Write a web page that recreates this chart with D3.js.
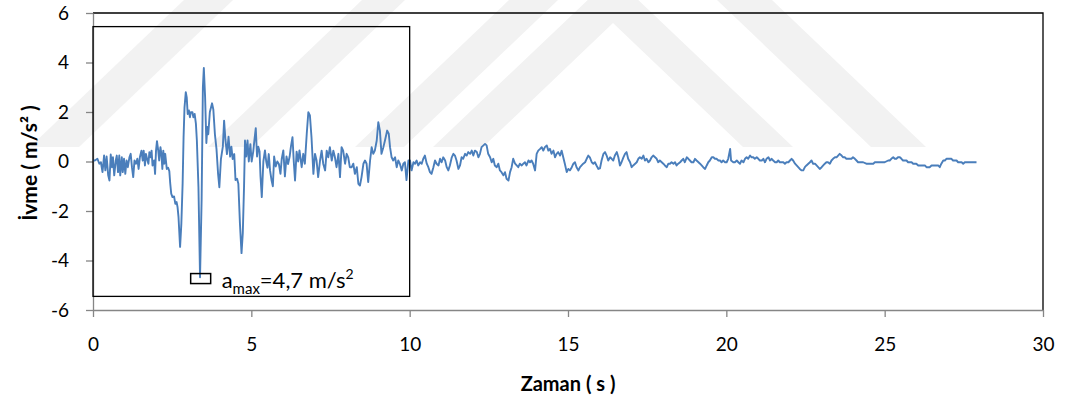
<!DOCTYPE html>
<html>
<head>
<meta charset="utf-8">
<title>Ivme - Zaman</title>
<style>
  body { margin: 0; background: #fff; }
  text { font-family: Lato, "Open Sans", sans-serif; fill: #000; }
</style>
</head>
<body>
<script src="https://d3js.org/d3.v7.min.js"></script>
<script>
// tick values
const xTicks = [0, 5, 10, 15, 20, 25, 30];
const yTicks = [-6, -4, -2, 0, 2, 4, 6];

// strong motion part, 0 - 10 s  [time (s), acceleration (m/s2)]
const kayitGuclu = [
  [0.00,0.05],[0.06,0.04],[0.14,0.11],[0.20,-0.09],[0.25,-0.03],[0.30,-0.43],[0.35,0.24],[0.39,-0.36],
  [0.43,0.20],[0.48,-0.56],[0.52,-0.77],[0.56,0.28],[0.60,-0.23],[0.63,0.17],[0.67,-0.56],[0.72,0.04],
  [0.75,0.24],[0.79,-0.43],[0.83,0.24],[0.86,-0.56],[0.91,0.17],[0.94,-0.43],[0.98,0.11],[1.02,-0.50],
  [1.06,0.04],[1.10,-0.23],[1.15,0.17],[1.19,0.31],[1.23,-0.23],[1.27,-0.63],[1.31,0.04],[1.36,-0.09],
  [1.40,0.11],[1.44,-0.30],[1.48,0.17],[1.53,0.44],[1.57,0.04],[1.60,0.44],[1.64,-0.16],[1.67,0.31],
  [1.72,0.04],[1.75,-0.09],[1.78,0.38],[1.82,0.17],[1.85,0.44],[1.88,-0.16],[1.93,0.04],[1.96,-0.50],
  [1.99,0.44],[2.02,0.82],[2.06,0.44],[2.09,0.04],[2.13,0.58],[2.16,0.31],[2.19,-0.30],[2.22,0.44],
  [2.25,-0.09],[2.28,0.31],[2.33,-0.30],[2.37,-0.25],[2.41,-0.39],[2.44,-0.90],[2.47,-1.30],[2.51,-1.44],
  [2.56,-1.41],[2.60,-1.71],[2.64,-1.64],[2.67,-1.84],[2.70,-2.24],[2.75,-3.45],[2.79,-2.51],[2.83,-0.90],
  [2.86,0.98],[2.89,2.19],[2.93,2.80],[2.96,2.59],[2.99,1.92],[3.03,2.06],[3.06,1.79],[3.09,1.99],
  [3.14,1.99],[3.17,1.79],[3.21,1.92],[3.25,1.52],[3.28,0.85],[3.33,-1.03],[3.38,-4.68],[3.43,-1.55],
  [3.47,3.00],[3.50,3.78],[3.54,2.60],[3.58,0.75],[3.61,1.40],[3.64,1.10],[3.69,2.00],[3.76,2.35],
  [3.80,2.10],[3.85,1.10],[3.90,0.50],[3.95,-0.50],[3.99,-1.04],[4.04,0.10],[4.10,0.60],[4.14,1.65],
  [4.18,0.90],[4.23,0.30],[4.28,1.00],[4.33,0.20],[4.37,0.60],[4.41,0.10],[4.46,0.30],[4.50,-0.75],
  [4.55,-0.70],[4.59,-0.90],[4.64,-2.50],[4.69,-3.70],[4.73,-2.90],[4.77,-1.00],[4.80,0.85],[4.84,0.20],
  [4.88,0.85],[4.92,0.00],[4.97,0.70],[5.01,0.00],[5.06,0.40],[5.10,0.90],[5.14,1.35],[5.18,0.20],
  [5.22,0.60],[5.26,0.40],[5.29,-0.60],[5.33,-1.44],[5.38,0.00],[5.43,0.45],[5.47,0.00],[5.51,-0.25],
  [5.55,0.30],[5.59,-0.35],[5.64,-0.77],[5.68,-1.00],[5.72,0.20],[5.77,-0.20],[5.82,0.00],[5.87,-0.10],
  [5.92,-0.50],[5.96,0.10],[6.01,0.45],[6.06,-0.60],[6.11,0.20],[6.16,-0.10],[6.21,0.20],[6.25,0.60],
  [6.30,0.98],[6.34,0.00],[6.38,-0.77],[6.43,0.40],[6.48,0.00],[6.52,0.45],[6.59,-0.23],[6.64,0.31],
  [6.69,-0.09],[6.75,1.12],[6.80,1.99],[6.85,1.86],[6.90,0.98],[6.96,-0.50],[7.01,0.31],[7.06,0.04],
  [7.11,-0.63],[7.17,0.04],[7.22,0.44],[7.27,-0.09],[7.33,-0.36],[7.38,0.44],[7.43,0.17],[7.48,0.58],
  [7.54,0.04],[7.59,0.44],[7.64,0.17],[7.69,-0.23],[7.75,0.31],[7.80,-0.63],[7.85,0.58],[7.90,0.44],
  [7.96,-0.09],[8.01,0.31],[8.06,0.17],[8.11,-0.23],[8.17,-0.23],[8.22,-0.09],[8.27,-0.50],[8.33,-0.23],
  [8.38,-0.90],[8.43,-0.97],[8.48,-0.63],[8.54,-0.09],[8.59,0.04],[8.64,-0.09],[8.69,-0.83],[8.75,0.04],
  [8.80,0.58],[8.85,0.31],[8.90,0.44],[8.96,0.85],[9.01,1.59],[9.06,1.25],[9.11,0.31],[9.17,0.58],
  [9.22,0.85],[9.29,1.25],[9.34,1.12],[9.38,0.58],[9.43,0.17],[9.48,0.04],[9.54,0.17],[9.59,-0.23],
  [9.64,0.04],[9.69,-0.09],[9.75,-0.36],[9.80,-0.09],[9.85,-0.03],[9.90,-0.75],[9.96,0.04]
];

// weaker part, 10 - 28 s
const kayitZayif = [
  [10.01,0.04],[10.06,-0.36],[10.12,-0.03],[10.17,-0.09],[10.22,0.04],[10.27,-0.16],[10.33,-0.03],[10.38,-0.09],
  [10.43,0.11],[10.48,0.24],[10.54,-0.09],[10.59,-0.23],[10.64,-0.43],[10.69,-0.50],[10.75,-0.23],[10.80,0.04],
  [10.85,-0.09],[10.91,-0.16],[10.96,0.11],[11.01,-0.03],[11.06,0.17],[11.12,0.04],[11.17,-0.23],[11.22,-0.36],
  [11.27,-0.16],[11.33,0.17],[11.38,0.31],[11.43,0.24],[11.48,0.04],[11.54,-0.30],[11.59,-0.16],[11.64,0.17],
  [11.69,0.11],[11.75,0.31],[11.80,0.24],[11.85,0.38],[11.91,0.31],[11.96,0.44],[12.01,0.24],[12.06,0.44],
  [12.12,0.38],[12.17,0.17],[12.22,0.31],[12.27,0.58],[12.33,0.65],[12.38,0.71],[12.43,0.65],[12.48,0.31],
  [12.54,0.17],[12.59,-0.03],[12.64,0.11],[12.69,-0.16],[12.75,-0.23],[12.80,-0.09],[12.85,-0.36],[12.90,-0.43],
  [12.96,-0.56],[13.01,-0.43],[13.06,-0.70],[13.12,-0.77],[13.17,-0.43],[13.22,-0.23],[13.27,0.11],[13.33,-0.09],
  [13.38,-0.16],[13.43,-0.23],[13.48,-0.09],[13.54,-0.16],[13.59,-0.09],[13.64,-0.03],[13.69,-0.16],[13.75,0.04],
  [13.80,-0.03],[13.85,0.04],[13.90,-0.09],[13.96,-0.36],[14.01,0.31],[14.06,0.44],[14.12,0.51],[14.17,0.58],
  [14.22,0.44],[14.27,0.58],[14.33,0.65],[14.38,0.44],[14.43,0.51],[14.48,0.31],[14.54,0.44],[14.59,0.17],
  [14.64,0.31],[14.69,0.38],[14.75,0.24],[14.80,0.44],[14.85,0.17],[14.90,-0.09],[14.96,-0.43],[15.01,-0.30],
  [15.06,-0.36],[15.12,-0.23],[15.17,-0.09],[15.22,-0.03],[15.27,-0.23],[15.33,-0.36],[15.38,-0.23],[15.43,-0.16],
  [15.48,-0.09],[15.54,-0.03],[15.59,0.11],[15.64,0.24],[15.69,0.17],[15.75,-0.03],[15.80,-0.09],[15.85,-0.03],
  [15.90,-0.16],[15.96,-0.30],[16.01,-0.28],[16.06,0.04],[16.12,0.31],[16.17,0.38],[16.22,0.24],[16.27,0.04],
  [16.33,0.17],[16.38,0.11],[16.43,0.04],[16.48,0.24],[16.54,0.38],[16.59,0.17],[16.64,-0.16],[16.69,-0.03],
  [16.75,0.17],[16.80,0.31],[16.85,0.38],[16.90,0.11],[16.96,-0.03],[17.01,-0.23],[17.06,-0.16],[17.12,-0.09],
  [17.17,-0.03],[17.22,0.11],[17.27,0.17],[17.33,0.11],[17.38,0.24],[17.43,0.04],[17.48,0.11],[17.54,-0.03],
  [17.59,0.04],[17.64,0.17],[17.69,0.24],[17.75,0.17],[17.80,0.11],[17.85,-0.03],[17.90,0.04],[17.96,-0.03],
  [18.01,-0.09],[18.06,-0.16],[18.12,-0.23],[18.17,-0.09],[18.22,-0.09],[18.27,-0.03],[18.33,-0.09],[18.38,-0.03],
  [18.43,-0.16],[18.48,-0.09],[18.54,-0.03],[18.59,0.04],[18.64,0.11],[18.69,-0.03],[18.75,0.17],[18.80,0.11],
  [18.85,0.04],[18.90,-0.03],[18.96,-0.03],[19.01,0.11],[19.06,0.04],[19.12,-0.03],[19.17,-0.09],[19.22,-0.16],
  [19.27,-0.23],[19.33,-0.30],[19.38,-0.16],[19.43,-0.03],[19.48,0.04],[19.54,0.17],[19.59,0.17],[19.64,0.11],
  [19.69,0.11],[19.75,0.04],[19.80,0.04],[19.85,-0.03],[19.90,0.04],[19.96,-0.03],[20.01,-0.03],[20.06,0.11],
  [20.12,0.51],[20.15,0.04],[20.22,-0.03],[20.27,-0.03],[20.33,0.04],[20.38,-0.03],[20.43,-0.09],[20.48,0.04],
  [20.54,-0.03],[20.59,0.11],[20.64,0.17],[20.69,0.11],[20.75,0.24],[20.80,0.17],[20.85,0.17],[20.90,0.11],
  [20.96,0.17],[21.01,0.11],[21.06,0.04],[21.12,0.04],[21.17,0.11],[21.22,-0.03],[21.27,0.11],[21.33,0.17],
  [21.38,0.04],[21.43,0.11],[21.48,0.04],[21.54,-0.03],[21.59,-0.03],[21.64,0.04],[21.69,-0.03],[21.75,-0.03],
  [21.80,-0.03],[21.85,-0.09],[21.90,-0.03],[21.96,-0.03],[22.01,0.04],[22.06,0.11],[22.11,0.04],[22.17,-0.09],
  [22.22,-0.16],[22.27,-0.23],[22.32,-0.30],[22.38,-0.36],[22.43,-0.36],[22.48,-0.23],[22.53,-0.16],[22.64,-0.03],
  [22.69,0.04],[22.74,-0.09],[22.80,-0.09],[22.85,-0.16],[22.90,-0.23],[22.95,-0.30],[23.01,-0.23],[23.06,-0.16],
  [23.11,-0.09],[23.16,-0.03],[23.21,-0.03],[23.27,-0.09],[23.32,0.04],[23.37,0.11],[23.43,0.17],[23.48,0.17],
  [23.53,0.24],[23.58,0.31],[23.64,0.24],[23.69,0.17],[23.74,0.17],[23.79,0.11],[23.85,0.11],[23.90,0.11],
  [23.95,0.11],[24.00,0.17],[24.06,0.11],[24.11,0.04],[24.16,-0.03],[24.21,-0.03],[24.27,-0.03],[24.32,-0.03],
  [24.42,-0.09],[24.53,-0.09],[24.64,-0.09],[24.69,-0.03],[24.79,-0.03],[24.90,-0.03],[25.00,-0.03],[25.11,0.04],
  [25.16,0.04],[25.21,0.11],[25.27,0.17],[25.32,0.11],[25.37,0.11],[25.42,0.17],[25.48,0.17],[25.53,0.11],
  [25.58,0.04],[25.69,0.04],[25.74,-0.03],[25.85,-0.03],[25.90,-0.09],[26.00,-0.09],[26.06,-0.16],[26.16,-0.16],
  [26.27,-0.16],[26.32,-0.23],[26.42,-0.23],[26.48,-0.16],[26.58,-0.16],[26.69,-0.16],[26.74,-0.23],[26.79,-0.09],
  [26.85,0.04],[26.90,0.04],[26.95,0.11],[27.06,0.11],[27.11,0.11],[27.16,0.04],[27.27,0.04],[27.32,-0.03],
  [27.43,-0.03],[27.48,-0.09],[27.53,-0.03],[27.64,-0.03],[27.74,-0.03],[27.90,-0.03]
];

// peak annotation and zoom box
const tepe = { t: 3.40, a: -4.73, etiket: "4,7 m/s" };
const kutuZaman = [0, 10];
const kutuIvme = [-5.45, 5.45];

const W = 1069, H = 403;
const svg = d3.select("body").append("svg")
  .attr("width", W).attr("height", H);

// watermark bands in the background
const bantlar = [
  [[30,147],[79,147],[233,0],[184,0]],
  [[208,147],[251,147],[405,0],[362,0]],
  [[355,147],[404,147],[558,0],[509,0]],
  [[433,147],[483,147],[613,23],[743,147],[793,147],[613,-24]],
  [[717,0],[772,0],[926,147],[871,147]]
];
svg.append("g").selectAll("polygon")
  .data(bantlar)
  .enter().append("polygon")
  .attr("points", d => d.map(p => p.join(",")).join(" "))
  .attr("fill", "#f2f2f2");

const x = d3.scaleLinear().domain([0, 30]).range([93, 1043]);
const y = d3.scaleLinear().domain([-6, 6]).range([310, 13]);

// plot border, top and right
svg.append("path")
  .attr("d", "M" + x(0) + "," + y(6) + "H" + x(30) + "V" + y(-6))
  .attr("fill", "none").attr("stroke", "#000").attr("stroke-width", 1.3);

const xAxis = svg.append("g")
  .attr("transform", "translate(0," + y(-6) + ")")
  .call(d3.axisBottom(x).tickValues(xTicks).tickFormat(d => String(d))
    .tickSize(7).tickSizeOuter(0).tickPadding(21));
const yAxis = svg.append("g")
  .attr("transform", "translate(" + x(0) + ",0)")
  .call(d3.axisLeft(y).tickValues(yTicks).tickFormat(d => String(d))
    .tickSize(7).tickSizeOuter(0).tickPadding(17));

[xAxis, yAxis].forEach(g => {
  g.select(".domain").attr("stroke", "#868686").attr("stroke-width", 1.3);
  g.selectAll(".tick line").attr("stroke", "#868686").attr("stroke-width", 1.3);
  g.selectAll(".tick text").attr("font-size", 19).attr("font-family", "Lato, sans-serif").attr("fill", "#000");
});

const line = d3.line().x(d => x(d[0])).y(d => y(d[1]));
svg.append("path")
  .datum(kayitGuclu.concat(kayitZayif))
  .attr("d", line)
  .attr("fill", "none")
  .attr("stroke", "#4a7ebb")
  .attr("stroke-width", 1.9)
  .attr("stroke-linejoin", "round");

// zoom box around strong motion
svg.append("rect")
  .attr("x", x(kutuZaman[0])).attr("y", y(kutuIvme[1]))
  .attr("width", x(kutuZaman[1]) - x(kutuZaman[0]))
  .attr("height", y(kutuIvme[0]) - y(kutuIvme[1]))
  .attr("fill", "none").attr("stroke", "#000").attr("stroke-width", 1.3);

// small box on the peak + label
svg.append("rect")
  .attr("x", x(tepe.t) - 10).attr("y", y(tepe.a) - 5)
  .attr("width", 20).attr("height", 10)
  .attr("fill", "none").attr("stroke", "#000").attr("stroke-width", 1.5);

const lbl = svg.append("text")
  .attr("x", x(tepe.t) + 21).attr("y", y(tepe.a) + 9)
  .attr("font-size", 22);
lbl.append("tspan").text("a");
lbl.append("tspan").attr("dy", 6).attr("font-size", 15).text("max");
lbl.append("tspan").attr("dy", -6).text("=" + tepe.etiket);
lbl.append("tspan").attr("dy", -9).attr("font-size", 14).text("2");

// axis titles
svg.append("text")
  .attr("transform", "translate(37,163) rotate(-90)")
  .attr("text-anchor", "middle")
  .attr("font-size", 21).attr("font-weight", "bold")
  .text("İvme ( m/s² )");

svg.append("text")
  .attr("x", (x(0) + x(30)) / 2).attr("y", 391)
  .attr("text-anchor", "middle")
  .attr("font-size", 20).attr("font-weight", "bold")
  .text("Zaman ( s )");
</script>
</body>
</html>
